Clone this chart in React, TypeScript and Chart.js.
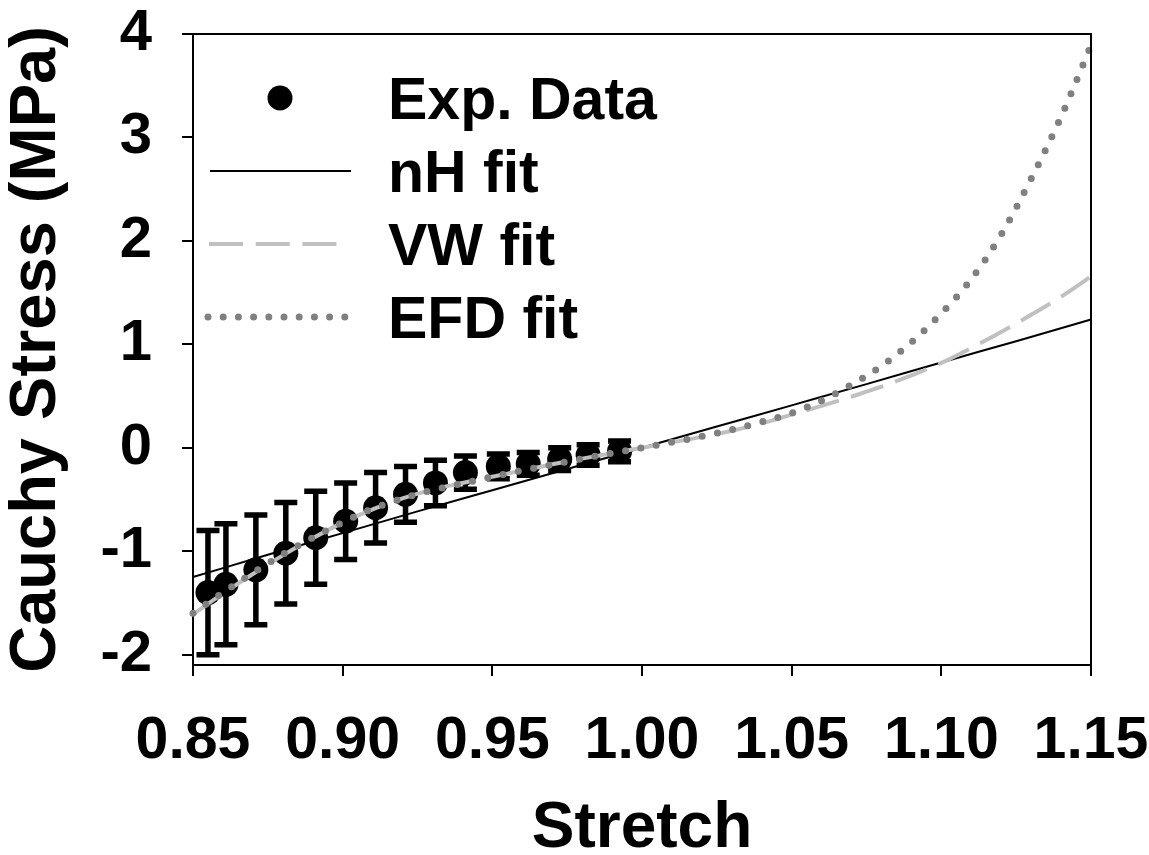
import React, { useEffect, useRef } from 'react';
import { Chart, registerables } from 'chart.js';

Chart.register(...registerables);

// ---------- data ----------
const expStretch = [0.855, 0.861, 0.871, 0.881, 0.891, 0.901, 0.911, 0.921, 0.931, 0.941, 0.952, 0.962, 0.9725, 0.982, 0.9925];
const expStress = [-1.40, -1.32, -1.18, -1.02, -0.87, -0.71, -0.58, -0.45, -0.34, -0.24, -0.18, -0.155, -0.11, -0.07, -0.035];
const expError = [0.60, 0.585, 0.53, 0.49, 0.45, 0.37, 0.34, 0.27, 0.22, 0.16, 0.12, 0.11, 0.11, 0.10, 0.10];

const nhStretch = [0.85, 0.875, 0.90, 0.925, 0.95, 0.975, 1.0, 1.025, 1.05, 1.075, 1.10, 1.125, 1.15];
const nhStress = [-1.25, -1.035, -0.825, -0.615, -0.41, -0.205, 0, 0.205, 0.41, 0.615, 0.825, 1.03, 1.24];

const fitStretch = [
  0.85, 0.86, 0.87, 0.88, 0.89, 0.90, 0.91, 0.92, 0.93, 0.94, 0.95, 0.96, 0.97, 0.98, 0.99, 1.00,
  1.01, 1.02, 1.03, 1.04, 1.05, 1.06, 1.07, 1.08, 1.09, 1.10, 1.11, 1.12, 1.13, 1.14, 1.15,
];
const vwStress = [
  -1.61, -1.41, -1.22, -1.04, -0.875, -0.725, -0.595, -0.49, -0.405, -0.34, -0.28, -0.22, -0.16, -0.105, -0.052, 0,
  0.052, 0.105, 0.165, 0.235, 0.32, 0.405, 0.495, 0.59, 0.70, 0.82, 0.965, 1.12, 1.285, 1.46, 1.655,
];
const efdStress = [
  -1.60, -1.40, -1.21, -1.03, -0.87, -0.72, -0.59, -0.49, -0.41, -0.345, -0.28, -0.22, -0.162, -0.106, -0.052, 0,
  0.053, 0.11, 0.175, 0.25, 0.335, 0.455, 0.61, 0.79, 1.02, 1.30, 1.63, 2.06, 2.60, 3.20, 3.89,
];

const xTicks = [0.85, 0.90, 0.95, 1.00, 1.05, 1.10, 1.15];
const yTicks = [-2, -1, 0, 1, 2, 3, 4];
const legendLabels = ['Exp. Data', 'nH fit', 'VW fit', 'EFD fit'];
const xTitle = 'Stretch';
const yTitle = 'Cauchy Stress (MPa)';

const FONT = '"Liberation Sans", Arial, Helvetica, sans-serif';
const VW_COLOR = '#c0c0c0';
const EFD_COLOR = '#808080';
const VW_DASH = [34, 12.7];
const EFD_DASH = [0, 15.6];

const pts = (xs: number[], ys: number[]) => xs.map((x, i) => ({ x, y: ys[i] }));

export default function App() {
  const ref = useRef<HTMLCanvasElement>(null);

  useEffect(() => {
    const canvas = ref.current;
    if (!canvas) return;

    const errorBars = {
      id: 'errorBars',
      beforeDatasetsDraw(chart: any) {
        const { ctx, scales } = chart;
        const xs = scales.x;
        const ys = scales.y;
        ctx.save();
        ctx.strokeStyle = '#000';
        ctx.lineWidth = 5.5;
        ctx.lineCap = 'butt';
        expStretch.forEach((sx, i) => {
          const px = xs.getPixelForValue(sx);
          const top = ys.getPixelForValue(expStress[i] + expError[i]);
          const bot = ys.getPixelForValue(expStress[i] - expError[i]);
          ctx.beginPath();
          ctx.moveTo(px, top);
          ctx.lineTo(px, bot);
          ctx.moveTo(px - 11.5, top);
          ctx.lineTo(px + 11.5, top);
          ctx.moveTo(px - 11.5, bot);
          ctx.lineTo(px + 11.5, bot);
          ctx.stroke();
        });
        ctx.restore();
      },
    };

    const frame = {
      id: 'frame',
      afterDraw(chart: any) {
        const { ctx, chartArea } = chart;
        ctx.save();
        ctx.strokeStyle = '#000';
        ctx.lineWidth = 2;
        ctx.beginPath();
        ctx.moveTo(chartArea.left, chartArea.top);
        ctx.lineTo(chartArea.right, chartArea.top);
        ctx.lineTo(chartArea.right, chartArea.bottom);
        ctx.stroke();
        ctx.restore();
      },
    };

    const legendPlugin = {
      id: 'customLegend',
      afterDraw(chart: any) {
        const { ctx } = chart;
        const rows = [98, 171, 244, 317];
        const textX = 388;
        ctx.save();
        ctx.font = `bold 59px ${FONT}`;
        ctx.fillStyle = '#000';
        ctx.textBaseline = 'alphabetic';
        ctx.textAlign = 'left';
        legendLabels.forEach((label, i) => {
          ctx.fillText(label, textX, rows[i] + 21);
        });
        ctx.beginPath();
        ctx.arc(280, rows[0], 12.5, 0, Math.PI * 2);
        ctx.fill();

        ctx.strokeStyle = '#000';
        ctx.lineWidth = 2;
        ctx.beginPath();
        ctx.moveTo(210, rows[1]);
        ctx.lineTo(351, rows[1]);
        ctx.stroke();

        ctx.strokeStyle = VW_COLOR;
        ctx.lineWidth = 4;
        ctx.setLineDash(VW_DASH);
        ctx.beginPath();
        ctx.moveTo(209, rows[2]);
        ctx.lineTo(338, rows[2]);
        ctx.stroke();

        ctx.strokeStyle = EFD_COLOR;
        ctx.lineWidth = 7;
        ctx.lineCap = 'round';
        ctx.setLineDash([0, 15.2]);
        ctx.beginPath();
        ctx.moveTo(208, rows[3]);
        ctx.lineTo(346, rows[3]);
        ctx.stroke();
        ctx.restore();
      },
    };

    const chart = new Chart(canvas, {
      type: 'scatter',
      data: {
        datasets: [
          {
            label: legendLabels[0],
            data: pts(expStretch, expStress),
            showLine: false,
            pointRadius: 12.5,
            pointBackgroundColor: '#000',
            pointBorderWidth: 0,
            pointBorderColor: '#000',
            order: 4,
          },
          {
            label: legendLabels[1],
            data: pts(nhStretch, nhStress),
            showLine: true,
            borderColor: '#000',
            borderWidth: 2,
            pointRadius: 0,
            cubicInterpolationMode: 'monotone',
            order: 3,
            clip: false,
          },
          {
            label: legendLabels[2],
            data: pts(fitStretch, vwStress),
            showLine: true,
            borderColor: VW_COLOR,
            borderWidth: 4,
            borderDash: VW_DASH,
            pointRadius: 0,
            cubicInterpolationMode: 'monotone',
            order: 2,
            clip: false,
          },
          {
            label: legendLabels[3],
            data: pts(fitStretch, efdStress),
            showLine: true,
            borderColor: EFD_COLOR,
            borderWidth: 7,
            borderDash: EFD_DASH,
            borderCapStyle: 'round',
            pointRadius: 0,
            cubicInterpolationMode: 'monotone',
            order: 1,
            clip: false,
          },
        ],
      } as any,
      options: {
        animation: false,
        responsive: false,
        maintainAspectRatio: false,
        devicePixelRatio: 1,
        layout: { autoPadding: false, padding: { left: 0, top: 34, right: 58, bottom: 0 } },
        plugins: {
          legend: { display: false },
          tooltip: { enabled: false },
        },
        events: [],
        scales: {
          x: {
            type: 'linear',
            min: 0.85,
            max: 1.15,
            afterBuildTicks: (s: any) => {
              s.ticks = xTicks.map((v) => ({ value: v }));
            },
            afterFit: (s: any) => {
              s.height = 190;
              s.paddingLeft = 0;
              s.paddingRight = 0;
              s.paddingTop = 0;
              s.paddingBottom = 0;
            },
            grid: {
              display: true,
              drawOnChartArea: false,
              drawTicks: true,
              tickLength: 11,
              color: '#000',
              lineWidth: 2,
            },
            border: { display: true, color: '#000', width: 2 },
            ticks: {
              color: '#000',
              font: { family: FONT, size: 59, weight: 'bold' },
              padding: 30,
              maxRotation: 0,
              autoSkip: false,
              callback: (v: any) => Number(v).toFixed(2),
            },
            title: {
              display: true,
              text: xTitle,
              color: '#000',
              font: { family: FONT, size: 64, weight: 'bold', lineHeight: 0.8 },
              padding: 0,
            },
          },
          y: {
            type: 'linear',
            min: -2.1,
            max: 4,
            afterBuildTicks: (s: any) => {
              s.ticks = yTicks.map((v) => ({ value: v }));
            },
            afterFit: (s: any) => {
              s.width = 193;
              s.paddingLeft = 0;
              s.paddingRight = 0;
              s.paddingTop = 0;
              s.paddingBottom = 0;
            },
            grid: {
              display: true,
              drawOnChartArea: false,
              drawTicks: true,
              tickLength: 11,
              color: '#000',
              lineWidth: 2,
            },
            border: { display: true, color: '#000', width: 2 },
            ticks: {
              color: '#000',
              font: { family: FONT, size: 58, weight: 'bold' },
              padding: 30,
              autoSkip: false,
              callback: (v: any) => String(v),
            },
            title: {
              display: true,
              text: yTitle,
              color: '#000',
              font: { family: FONT, size: 65, weight: 'bold', lineHeight: 1.0 },
              padding: { top: 5, bottom: 0 },
            },
          },
        },
      } as any,
      plugins: [errorBars, frame, legendPlugin],
    });

    return () => chart.destroy();
  }, []);

  return (
    <div style={{ position: 'absolute', left: 0, top: 0, width: 1149, height: 855, background: '#fff' }}>
      <canvas ref={ref} width={1149} height={855} style={{ display: 'block', width: 1149, height: 855 }} />
    </div>
  );
}
